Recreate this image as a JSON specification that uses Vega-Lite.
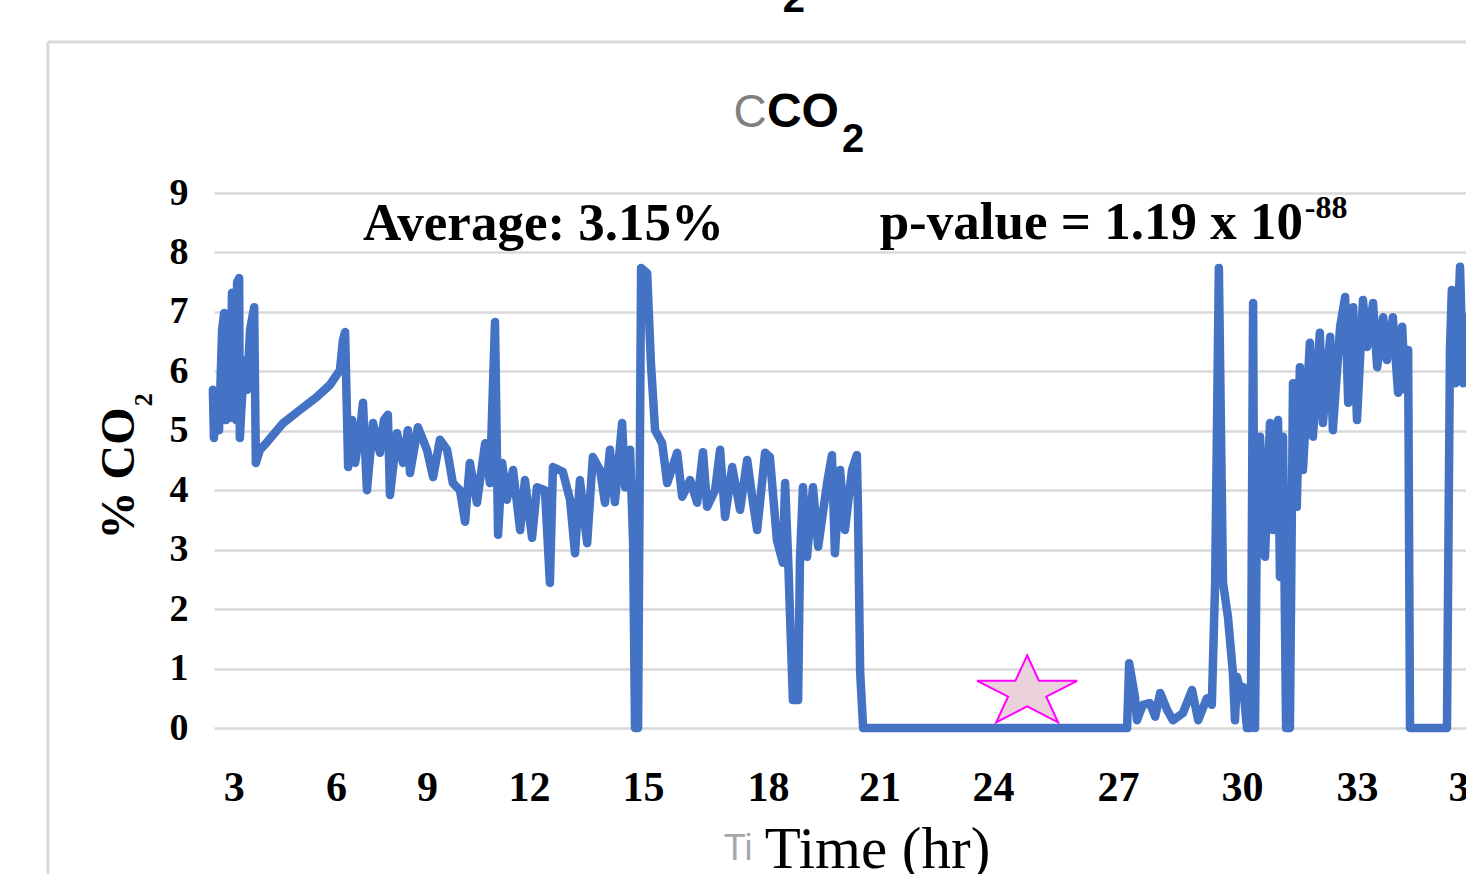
{
  "$schema": "https://vega.github.io/schema/vega-lite/v6.json",
  "width": 1252,
  "height": 535,
  "autosize": {"type": "none"},
  "padding": {"left": 214, "top": 193, "right": 0, "bottom": 146},
  "background": "white",
  "config": {"view": {"stroke": null}},
  "encoding": {
    "x": {
      "field": "t", "type": "quantitative",
      "scale": {"domain": [2.422, 3, 6, 9, 12, 15, 18, 21, 24, 27, 30, 33, 36], "range": [0, 19.7, 122, 213, 315, 429, 554, 665.5, 779, 904, 1028, 1143, 1255], "nice": false, "zero": false},
      "axis": {
        "values": [3, 6, 9, 12, 15, 18, 21, 24, 27, 30, 33, 36],
        "grid": false, "domain": false, "ticks": false,
        "labelFont": "Liberation Serif", "labelFontWeight": "bold", "labelFontSize": 42, "labelColor": "black",
        "labelBaseline": "alphabetic", "labelPadding": 72, "labelFlush": false, "labelOverlap": false, "labelBound": false,
        "title": "Time (hr)", "titleFont": "Liberation Serif", "titleFontWeight": "normal", "titleFontSize": 59, "titleColor": "black",
        "titleX": 663, "titleY": 139, "titleBaseline": "alphabetic", "titleAlign": "center"
      }
    },
    "y": {
      "field": "v", "type": "quantitative",
      "scale": {"domain": [0, 9], "nice": false, "zero": false},
      "axis": {
        "values": [0, 1, 2, 3, 4, 5, 6, 7, 8, 9],
        "grid": true, "gridColor": "#d9d9d9", "gridWidth": 2.5,
        "domain": false, "ticks": false,
        "labelFont": "Liberation Serif", "labelFontWeight": "bold", "labelFontSize": 38, "labelColor": "black", "labelPadding": 26,
        "title": "% CO", "titleFont": "Liberation Serif", "titleFontWeight": "bold", "titleFontSize": 48, "titleColor": "black",
        "titleAngle": 270, "titleX": -81, "titleY": 280, "titleBaseline": "alphabetic", "titleAlign": "center"
      }
    }
  },
  "layer": [
    {
      "data": {"values": [
        {"t": -2.45, "v": 11.54, "t2": -2.45, "v2": -3},
        {"t": -2.45, "v": 11.54, "t2": 40, "v2": 11.54}
      ]},
      "mark": {"type": "rule", "color": "#d9d9d9", "strokeWidth": 3},
      "encoding": {"x2": {"field": "t2"}, "y2": {"field": "v2"}}
    },
    {
      "data": {"values": [
        {"t":2.39,"v":5.69},{"t":2.42,"v":4.88},{"t":2.51,"v":5.52},{"t":2.57,"v":5.01},{"t":2.66,"v":6.70},
        {"t":2.72,"v":6.98},{"t":2.77,"v":5.18},{"t":2.83,"v":6.53},{"t":2.89,"v":5.22},{"t":2.95,"v":7.32},
        {"t":2.98,"v":7.20},{"t":3.07,"v":5.18},{"t":3.10,"v":7.50},{"t":3.16,"v":7.57},{"t":3.18,"v":4.88},
        {"t":3.24,"v":5.52},{"t":3.33,"v":6.19},{"t":3.39,"v":5.69},{"t":3.48,"v":6.70},{"t":3.60,"v":7.08},
        {"t":3.65,"v":4.46},{"t":3.77,"v":4.68},{"t":3.98,"v":4.81},{"t":4.45,"v":5.13},{"t":4.94,"v":5.35},
        {"t":5.44,"v":5.57},{"t":5.82,"v":5.77},{"t":6.13,"v":6.02},{"t":6.23,"v":6.53},{"t":6.30,"v":6.66},
        {"t":6.40,"v":4.39},{"t":6.53,"v":5.18},{"t":6.63,"v":4.46},{"t":6.79,"v":5.01},{"t":6.89,"v":5.47},
        {"t":7.02,"v":4.00},{"t":7.22,"v":5.13},{"t":7.45,"v":4.63},{"t":7.58,"v":5.18},{"t":7.71,"v":5.27},
        {"t":7.78,"v":3.92},{"t":8.01,"v":4.96},{"t":8.21,"v":4.46},{"t":8.37,"v":5.01},{"t":8.44,"v":4.29},
        {"t":8.70,"v":5.06},{"t":9.00,"v":4.68},{"t":9.18,"v":4.22},{"t":9.38,"v":4.85},{"t":9.59,"v":4.68},
        {"t":9.76,"v":4.12},{"t":9.97,"v":4.00},{"t":10.12,"v":3.47},{"t":10.26,"v":4.46},{"t":10.47,"v":3.79},
        {"t":10.71,"v":4.79},{"t":10.85,"v":4.12},{"t":11.00,"v":6.83},{"t":11.09,"v":3.25},{"t":11.21,"v":4.46},
        {"t":11.35,"v":3.84},{"t":11.53,"v":4.34},{"t":11.74,"v":3.33},{"t":11.88,"v":4.17},{"t":12.08,"v":3.20},
        {"t":12.21,"v":4.05},{"t":12.42,"v":4.00},{"t":12.55,"v":2.44},{"t":12.63,"v":4.39},{"t":12.89,"v":4.31},
        {"t":13.08,"v":3.84},{"t":13.21,"v":2.94},{"t":13.34,"v":4.17},{"t":13.53,"v":3.11},{"t":13.68,"v":4.56},
        {"t":13.87,"v":4.34},{"t":14.00,"v":3.79},{"t":14.13,"v":4.68},{"t":14.26,"v":3.80},{"t":14.45,"v":5.13},
        {"t":14.53,"v":4.05},{"t":14.66,"v":4.68},{"t":14.74,"v":3.11},{"t":14.79,"v":0},{"t":14.87,"v":0},
        {"t":14.95,"v":7.74},{"t":15.10,"v":7.65},{"t":15.19,"v":6.14},{"t":15.29,"v":5.01},{"t":15.46,"v":4.79},
        {"t":15.58,"v":4.12},{"t":15.82,"v":4.63},{"t":15.94,"v":3.89},{"t":16.13,"v":4.17},{"t":16.30,"v":3.79},
        {"t":16.44,"v":4.64},{"t":16.54,"v":3.72},{"t":16.73,"v":4.00},{"t":16.85,"v":4.68},{"t":16.97,"v":3.55},
        {"t":17.14,"v":4.39},{"t":17.33,"v":3.67},{"t":17.50,"v":4.51},{"t":17.64,"v":3.79},{"t":17.74,"v":3.33},
        {"t":17.93,"v":4.63},{"t":18.05,"v":4.56},{"t":18.24,"v":3.16},{"t":18.40,"v":2.78},{"t":18.46,"v":4.12},
        {"t":18.54,"v":2.88},{"t":18.67,"v":0.47},{"t":18.81,"v":0.47},{"t":18.86,"v":2.83},{"t":18.94,"v":4.05},
        {"t":19.05,"v":2.88},{"t":19.21,"v":4.05},{"t":19.35,"v":3.05},{"t":19.59,"v":4.12},{"t":19.72,"v":4.59},
        {"t":19.80,"v":2.94},{"t":19.94,"v":4.34},{"t":20.07,"v":3.33},{"t":20.26,"v":4.34},{"t":20.39,"v":4.59},
        {"t":20.42,"v":3.72},{"t":20.48,"v":0.93},{"t":20.56,"v":0},{"t":27.22,"v":0},{"t":27.27,"v":1.09},
        {"t":27.41,"v":0.52},{"t":27.46,"v":0.13},{"t":27.60,"v":0.39},{"t":27.77,"v":0.42},{"t":27.90,"v":0.19},
        {"t":28.02,"v":0.59},{"t":28.19,"v":0.30},{"t":28.33,"v":0.13},{"t":28.57,"v":0.25},{"t":28.79,"v":0.64},
        {"t":28.94,"v":0.13},{"t":29.15,"v":0.50},{"t":29.27,"v":0.39},{"t":29.35,"v":2.44},{"t":29.44,"v":7.74},
        {"t":29.54,"v":2.44},{"t":29.66,"v":1.87},{"t":29.78,"v":0.93},{"t":29.83,"v":0.13},{"t":29.88,"v":0.86},
        {"t":29.95,"v":0.64},{"t":30.03,"v":0.69},{"t":30.13,"v":0},{"t":30.23,"v":0},{"t":30.29,"v":7.15},
        {"t":30.34,"v":0},{"t":30.39,"v":3.67},{"t":30.47,"v":4.90},{"t":30.60,"v":2.88},{"t":30.73,"v":5.13},
        {"t":30.81,"v":3.33},{"t":30.94,"v":5.18},{"t":30.99,"v":2.54},{"t":31.07,"v":4.90},{"t":31.15,"v":0},
        {"t":31.25,"v":0},{"t":31.33,"v":5.80},{"t":31.43,"v":3.72},{"t":31.51,"v":6.07},{"t":31.59,"v":4.34},
        {"t":31.77,"v":6.48},{"t":31.85,"v":4.90},{"t":32.03,"v":6.65},{"t":32.11,"v":5.13},{"t":32.30,"v":6.58},
        {"t":32.37,"v":5.01},{"t":32.56,"v":6.75},{"t":32.69,"v":7.25},{"t":32.77,"v":5.47},{"t":32.90,"v":7.08},
        {"t":33.00,"v":5.18},{"t":33.16,"v":7.20},{"t":33.27,"v":6.41},{"t":33.43,"v":7.15},{"t":33.54,"v":6.07},
        {"t":33.70,"v":6.91},{"t":33.80,"v":6.19},{"t":33.96,"v":6.91},{"t":34.10,"v":5.64},{"t":34.21,"v":6.75},
        {"t":34.29,"v":5.69},{"t":34.37,"v":6.36},{"t":34.42,"v":0},{"t":35.41,"v":0},{"t":35.49,"v":6.36},
        {"t":35.54,"v":7.37},{"t":35.63,"v":5.80},{"t":35.76,"v":7.76},{"t":35.84,"v":5.80},{"t":35.92,"v":6.91}
      ]},
      "mark": {"type": "line", "color": "#4472c4", "strokeWidth": 8.5, "strokeJoin": "round", "strokeCap": "round", "clip": false}
    },
    {
      "data": {"values": [{"t": 24.82, "v": 0.66}]},
      "mark": {"type": "point", "shape": "M0,-0.67L0.236,-0.158L1,-0.158L0.382,0.158L0.618,0.67L0,0.354L-0.618,0.67L-0.382,0.158L-1,-0.158L-0.236,-0.158Z", "size": 10000, "filled": true, "fill": "#ead1dc", "stroke": "#ff00ff", "strokeWidth": 2, "opacity": 1, "fillOpacity": 1}
    },
    {
      "data": {"values": [{"t": 6.89, "v": 8.21, "label": "Average: 3.15%"}]},
      "mark": {"type": "text", "align": "left", "baseline": "alphabetic", "font": "Liberation Serif", "fontWeight": "bold", "fontSize": 53, "color": "black"},
      "encoding": {"text": {"field": "label"}}
    },
    {
      "data": {"values": [{"t": 31.59, "v": 8.23, "label": "p-value = 1.19 x 10"}]},
      "mark": {"type": "text", "align": "right", "baseline": "alphabetic", "font": "Liberation Serif", "fontWeight": "bold", "fontSize": 53, "color": "black"},
      "encoding": {"text": {"field": "label"}}
    },
    {
      "data": {"values": [{"t": 31.64, "v": 8.58, "label": "-88"}]},
      "mark": {"type": "text", "align": "left", "baseline": "alphabetic", "font": "Liberation Serif", "fontWeight": "bold", "fontSize": 32, "color": "black"},
      "encoding": {"text": {"field": "label"}}
    },
    {
      "data": {"values": [{"t": 17.57, "v": 10.11, "label": "C"}]},
      "mark": {"type": "text", "align": "center", "baseline": "alphabetic", "font": "Liberation Sans", "fontWeight": "normal", "fontSize": 46, "color": "#7f7f7f"},
      "encoding": {"text": {"field": "label"}}
    },
    {
      "data": {"values": [{"t": 18.94, "v": 10.11, "label": "CO"}]},
      "mark": {"type": "text", "align": "center", "baseline": "alphabetic", "font": "Liberation Sans", "fontWeight": "bold", "fontSize": 48, "color": "black"},
      "encoding": {"text": {"field": "label"}}
    },
    {
      "data": {"values": [{"t": 19.99, "v": 9.69, "label": "2"}, {"t": 18.40, "v": 12.05, "label": "2"}]},
      "mark": {"type": "text", "align": "left", "baseline": "alphabetic", "font": "Liberation Sans", "fontWeight": "bold", "fontSize": 40, "color": "black"},
      "encoding": {"text": {"field": "label"}}
    },
    {
      "data": {"values": [{"t": 0.37, "v": 5.52, "label": "2"}]},
      "mark": {"type": "text", "align": "center", "baseline": "middle", "angle": 270, "font": "Liberation Serif", "fontWeight": "bold", "fontSize": 26, "color": "black"},
      "encoding": {"text": {"field": "label"}}
    },
    {
      "data": {"values": [{"t": 16.94, "v": -2.22, "label": "Ti"}]},
      "mark": {"type": "text", "align": "left", "baseline": "alphabetic", "font": "Liberation Sans", "fontSize": 36, "color": "#a6a6a6"},
      "encoding": {"text": {"field": "label"}}
    }
  ]
}
